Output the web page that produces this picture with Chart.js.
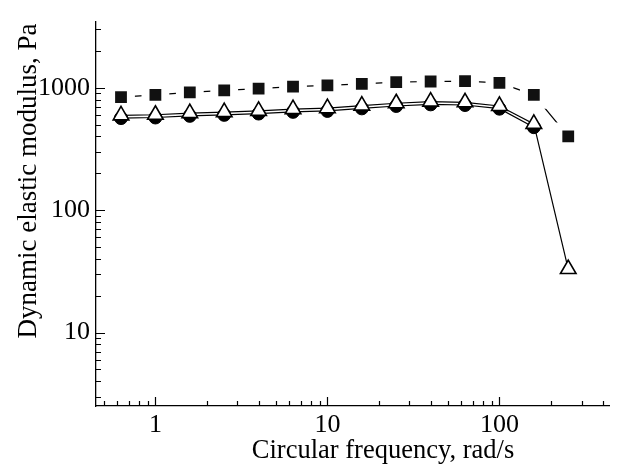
<!DOCTYPE html>
<html>
<head>
<meta charset="utf-8">
<script src="https://cdn.jsdelivr.net/npm/chart.js@4/dist/chart.umd.min.js"></script>
<style>
  html, body { margin: 0; padding: 0; background: #fff; }
</style>
</head>
<body>
<canvas id="myChart" width="631" height="464"></canvas>
<script>
// circular frequency, rad/s
const freq = [0.631, 1, 1.585, 2.512, 3.981, 6.31, 10, 15.85, 25.12, 39.81, 63.1, 100, 158.5, 251.2];
// filled squares
const squareValues = [836, 874, 917, 951, 982, 1019, 1043, 1075, 1110, 1123, 1131, 1096, 874, 400];
// open triangles
const triangleValues = [594, 601, 620, 632, 647, 668, 680, 714, 746, 769, 760, 709, 506, 33];
// filled circles (mostly hidden under the triangles), last point missing
const circleValues = [565, 571, 589, 600, 615, 635, 646, 678, 709, 731, 722, 674, 476];

const xTickLabels = [1, 10, 100];
const yTickLabels = [10, 100, 1000];
const minorSteps = [2, 3, 4, 5, 6, 7, 8, 9];

const xTitle = "Circular frequency, rad/s";
const yTitle = "Dynamic elastic modulus, Pa";
const fontFamily = '"Liberation Serif", "Times New Roman", serif';

function toPoints(values) {
    return values.map((v, i) => ({ x: freq[i], y: v }));
}

// ticks point into the plot, so draw them by hand from the scales
const innerTicks = {
    id: "innerTicks",
    afterDraw(chart) {
        const ctx = chart.ctx;
        const xs = chart.scales.x;
        const ys = chart.scales.y;
        const area = chart.chartArea;
        ctx.save();
        ctx.strokeStyle = "#000";
        ctx.lineWidth = 1.2;
        ctx.beginPath();
        [0.1, 1, 10, 100].forEach(dec => {
            minorSteps.forEach(m => {
                const v = dec * m;
                if (v < xs.min || v > xs.max) return;
                const px = Math.round(xs.getPixelForValue(v)) + 0.5;
                ctx.moveTo(px, area.bottom);
                ctx.lineTo(px, area.bottom - 5);
            });
        });
        xTickLabels.forEach(v => {
            const px = Math.round(xs.getPixelForValue(v)) + 0.5;
            ctx.moveTo(px, area.bottom);
            ctx.lineTo(px, area.bottom - 9);
        });
        [1, 10, 100, 1000].forEach(dec => {
            minorSteps.forEach(m => {
                const v = dec * m;
                if (v < ys.min || v > ys.max) return;
                const py = Math.round(ys.getPixelForValue(v)) + 0.5;
                ctx.moveTo(area.left, py);
                ctx.lineTo(area.left + 5, py);
            });
        });
        yTickLabels.forEach(v => {
            const py = Math.round(ys.getPixelForValue(v)) + 0.5;
            ctx.moveTo(area.left, py);
            ctx.lineTo(area.left + 9, py);
        });
        ctx.stroke();

        // axis titles
        ctx.fillStyle = "#000";
        ctx.textAlign = "center";
        ctx.textBaseline = "alphabetic";
        ctx.font = "26.5px " + fontFamily;
        ctx.fillText(xTitle, 383, 458);
        ctx.font = "27px " + fontFamily;
        ctx.translate(36, 181);
        ctx.rotate(-Math.PI / 2);
        ctx.fillText(yTitle, 0, 0);
        ctx.restore();
    }
};

window.myChart = new Chart("myChart", {
    type: "line",
    data: {
        datasets: [{
            label: "triangles",
            data: toPoints(triangleValues),
            borderColor: "#000",
            borderWidth: 1.2,
            pointStyle: "triangle",
            pointRadius: 9,
            pointBackgroundColor: "#fff",
            pointBorderColor: "#000",
            pointBorderWidth: 1.6
        }, {
            label: "circles",
            data: toPoints(circleValues),
            borderColor: "#000",
            borderWidth: 1.2,
            pointStyle: "circle",
            pointRadius: 6.5,
            pointBackgroundColor: "#000",
            pointBorderColor: "#000",
            pointBorderWidth: 1
        }, {
            label: "squares",
            data: toPoints(squareValues),
            borderColor: "#000",
            borderWidth: 1.2,
            pointStyle: "rect",
            pointRadius: 14,
            pointBackgroundColor: "#111",
            pointBorderColor: "#fff",
            pointBorderWidth: 8
        }]
    },
    options: {
        responsive: false,
        animation: false,
        devicePixelRatio: 1,
        layout: { padding: { top: 14, right: 0, left: 0, bottom: 0 } },
        plugins: {
            legend: { display: false },
            tooltip: { enabled: false }
        },
        scales: {
            x: {
                type: "logarithmic",
                bounds: "data",
                min: 0.4515,
                max: 433.5,
                afterFit: s => { s.height = 58; },
                afterBuildTicks: s => { s.ticks = xTickLabels.map(v => ({ value: v })); },
                grid: { display: false, drawTicks: false, tickLength: 0 },
                border: { display: true, color: "#000", width: 1.3 },
                ticks: {
                    color: "#000",
                    padding: 4,
                    maxRotation: 0,
                    autoSkip: false,
                    font: { family: fontFamily, size: 26 },
                    callback: v => String(v)
                }
            },
            y: {
                type: "logarithmic",
                bounds: "data",
                min: 2.512,
                max: 3440,
                afterFit: s => { s.width = 96; },
                afterBuildTicks: s => { s.ticks = yTickLabels.map(v => ({ value: v })); },
                grid: { display: false, drawTicks: false, tickLength: 0 },
                border: { display: true, color: "#000", width: 1.3 },
                ticks: {
                    color: "#000",
                    padding: 6,
                    autoSkip: false,
                    font: { family: fontFamily, size: 26 },
                    callback: v => String(v)
                }
            }
        }
    },
    plugins: [innerTicks]
});
</script>
</body>
</html>
